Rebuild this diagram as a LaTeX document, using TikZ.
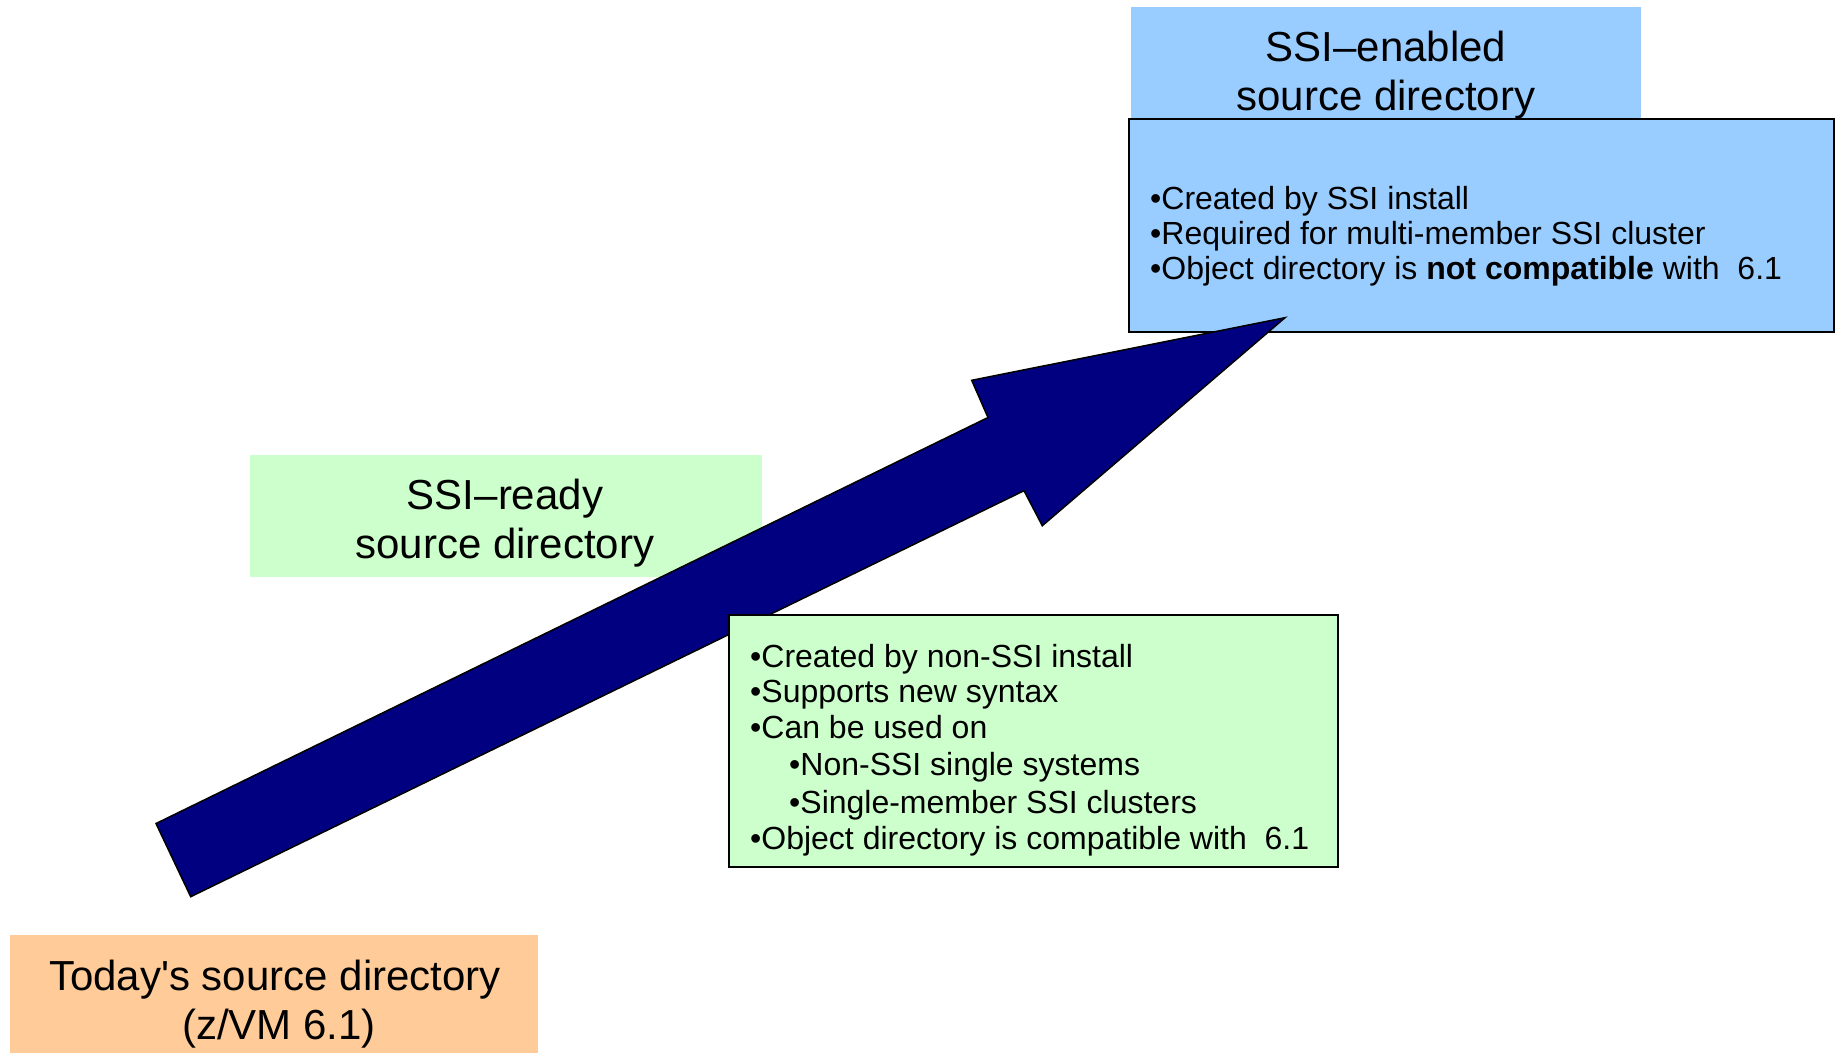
\documentclass[tikz,border=0pt]{standalone}
\usepackage{fontspec}
\setmainfont{Liberation Sans}
\definecolor{boxblue}{HTML}{99CCFF}
\definecolor{boxgreen}{HTML}{CCFFCC}
\definecolor{boxorange}{HTML}{FFCC99}
\definecolor{arrownavy}{HTML}{000080}
\begin{document}
\begin{tikzpicture}[x=1pt,y=-1pt,
  panel/.style={anchor=north west, inner sep=0pt, outer sep=0pt},
  titletext/.style={anchor=base, font=\fontsize{42}{49}\selectfont, inner sep=0pt},
  bodytext/.style={anchor=base west, font=\fontsize{32}{35}\selectfont, inner sep=0pt}]
\useasboundingbox (0,0) rectangle (1837,1053);
\fill[white] (0,0) rectangle (1837,1053);

% SSI-ready title panel (behind arrow)
\node[panel, fill=boxgreen, minimum width=512pt, minimum height=122pt] (readytitle) at (250,455) {};
\node[titletext] (readyl1) at (505,509.5) {SSI–ready};
\node[titletext] (readyl2) at (505,558.5) {source directory};

% SSI-enabled panels
\node[panel, fill=boxblue, minimum width=510pt, minimum height=112pt] (enabledtitle) at (1131,7) {};
\node[panel, fill=boxblue, draw=black, line width=2pt, minimum width=705pt, minimum height=213pt] (enabledbody) at (1129,118.5) {};
\node[titletext] (enabledl1) at (1386,61) {SSI–enabled};
\node[titletext] (enabledl2) at (1386,110) {source directory};
\node[bodytext] (eb1) at (1150,209) {•Created by SSI install};
\node[bodytext] (eb2) at (1150,244) {•Required for multi-member SSI cluster};
\node[bodytext] (eb3) at (1150,279) {•Object directory is \textbf{not compatible} with\ \ 6.1};

% big arrow
\coordinate (tailtop) at (156,823.5);
\coordinate (tailbot) at (190.7,896.7);
\coordinate (shaftup) at (988,417.5);
\coordinate (barbup) at (971.7,380.3);
\coordinate (tip) at (1285,317.7);
\coordinate (barblow) at (1042.3,525.7);
\coordinate (shaftlow) at (1024,490.7);
\draw[fill=arrownavy, line width=1.5pt, line join=miter]
  (tailtop) -- (shaftup) -- (barbup) -- (tip) -- (barblow) -- (shaftlow) -- (tailbot) -- cycle;

% SSI-ready body panel (over arrow)
\node[panel, fill=boxgreen, draw=black, line width=2pt, minimum width=609pt, minimum height=252pt] (readybody) at (729,615) {};
\node[bodytext] (rb1) at (750,667) {•Created by non-SSI install};
\node[bodytext] (rb2) at (750,702.5) {•Supports new syntax};
\node[bodytext] (rb3) at (750,738) {•Can be used on};
\node[bodytext] (rb4) at (789,775.5) {•Non-SSI single systems};
\node[bodytext] (rb5) at (789,813) {•Single-member SSI clusters};
\node[bodytext] (rb6) at (750,849) {•Object directory is compatible with\ \ 6.1};

% today's panel
\node[panel, fill=boxorange, minimum width=528pt, minimum height=118pt] (today) at (10,935) {};
\node[titletext] (todayl1) at (275,990) {Today\textquotesingle s source directory};
\node[titletext] (todayl2) at (279,1039) {(z/VM 6.1)};
\end{tikzpicture}
\end{document}
